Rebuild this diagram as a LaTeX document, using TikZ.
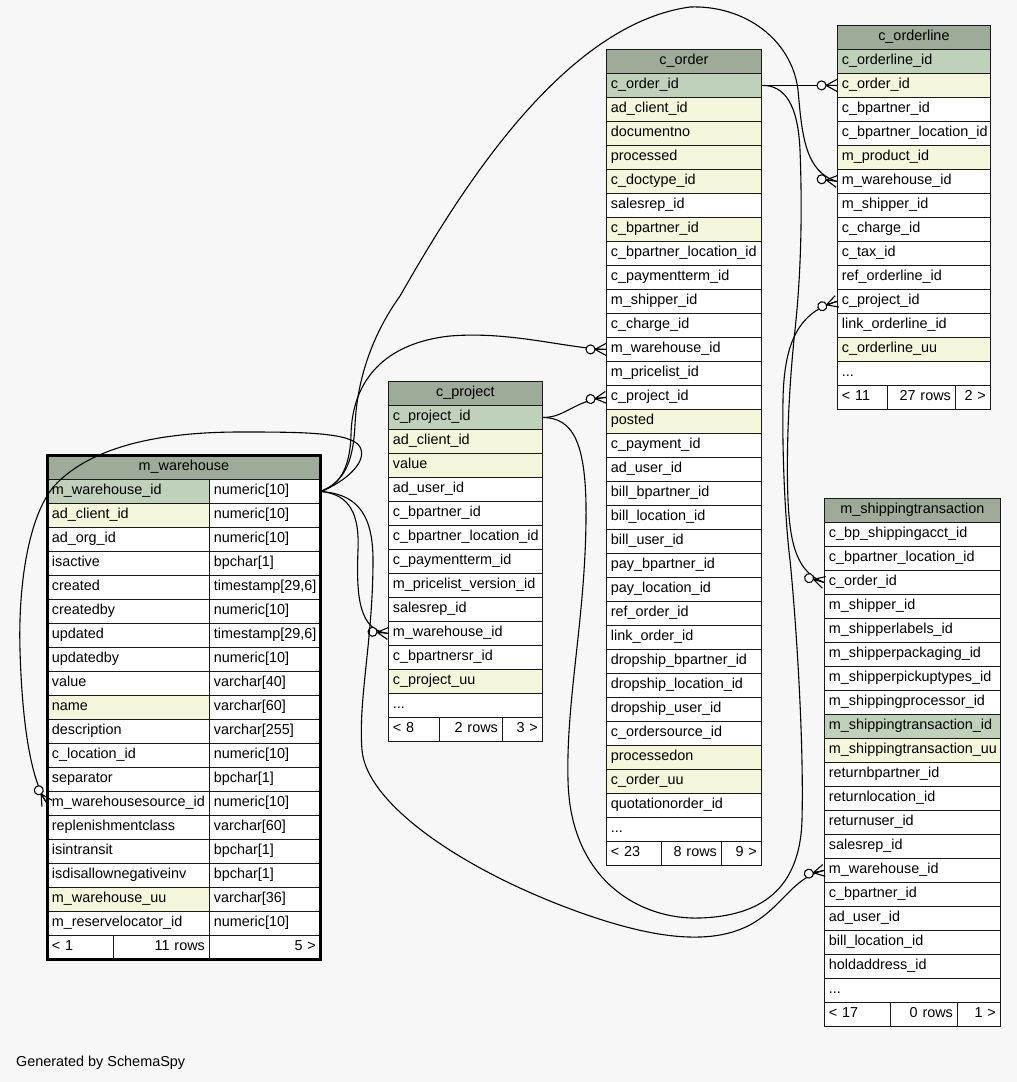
\documentclass[tikz,border=0pt]{standalone}
\usepackage{fontspec}
\setmainfont{Liberation Sans}
\definecolor{bgc}{HTML}{F7F7F7}
\definecolor{hdc}{HTML}{9DAB98}
\definecolor{pkc}{HTML}{BFD1BB}
\definecolor{fkc}{HTML}{F4F7DB}
\newcommand\tf{\fontsize{14.4}{17}\selectfont}
\newcommand\tdots{...}
\newcommand\crowend[2]{%
  \begin{scope}[shift={(#1)},rotate=#2]
    \draw[crowln] (-11,0) -- (0,-6) (-11,0) -- (0,0) (-11,0) -- (0,6);
    \draw[crowln,fill=white] (-15.5,0) circle[radius=4.5];
  \end{scope}}
\begin{document}
\begin{tikzpicture}[x=1pt,y=-1pt,
  cell/.style={draw=black!90, line width=0.8pt, fill=white, anchor=north west,
    inner xsep=4.5pt, inner ysep=0pt, minimum height=24pt, text height=10.5pt,
    text depth=3.5pt, align=left, font=\tf},
  wd/.code={\pgfmathsetlengthmacro\cw{#1-9}\tikzset{text width/.expanded={\cw}}},
  hdr/.style={fill=hdc, align=center},
  pk/.style={fill=pkc}, fk/.style={fill=fkc}, nn/.style={},
  rt/.style={align=right},
  edge/.style={draw=black, line width=1.1pt},
  crowln/.style={draw=black, line width=1.1pt}]
\fill[bgc] (0,0) rectangle (1017,1082);
\useasboundingbox (0,0) rectangle (1017,1082);

% ---------- m_warehouse ----------
\node[cell,hdr,wd=273] (mwh) at (47,455) {m\_warehouse};
\foreach \nm/\ty/\st [count=\i] in {
  m\_warehouse\_id/numeric[10]/pk,
  ad\_client\_id/numeric[10]/fk,
  ad\_org\_id/numeric[10]/nn,
  isactive/bpchar[1]/nn,
  created/{timestamp[29,6]}/nn,
  createdby/numeric[10]/nn,
  updated/{timestamp[29,6]}/nn,
  updatedby/numeric[10]/nn,
  value/varchar[40]/nn,
  name/varchar[60]/fk,
  description/varchar[255]/nn,
  c\_location\_id/numeric[10]/nn,
  separator/bpchar[1]/nn,
  m\_warehousesource\_id/numeric[10]/nn,
  replenishmentclass/varchar[60]/nn,
  isintransit/bpchar[1]/nn,
  isdisallownegativeinv/bpchar[1]/nn,
  m\_warehouse\_uu/varchar[36]/fk,
  m\_reservelocator\_id/numeric[10]/nn}
{
  \node[cell,\st,wd=162] (mw\i) at (47,{455+24*\i}) {\nm};
  \node[cell,wd=111] (mwt\i) at (209,{455+24*\i}) {\ty};
}
\node[cell,wd=66] (mwf1) at (47,935) {< 1};
\node[cell,rt,wd=96] (mwf2) at (113,935) {11 rows};
\node[cell,rt,wd=111] (mwf3) at (209,935) {5 >};
\draw[line width=3pt] (47,455) rectangle (320,959);

% ---------- c_project ----------
\node[cell,hdr,wd=154] (cph) at (388,381) {c\_project};
\foreach \nm/\st [count=\i] in {
  c\_project\_id/pk, ad\_client\_id/fk, value/fk, ad\_user\_id/nn,
  c\_bpartner\_id/nn, c\_bpartner\_location\_id/nn, c\_paymentterm\_id/nn,
  m\_pricelist\_version\_id/nn, salesrep\_id/nn, m\_warehouse\_id/nn,
  c\_bpartnersr\_id/nn, c\_project\_uu/fk, \tdots/nn}
{
  \node[cell,\st,wd=154] (cp\i) at (388,{381+24*\i}) {\nm};
}
\node[cell,wd=51] (cpf1) at (388,717) {< 8};
\node[cell,rt,wd=63] (cpf2) at (439,717) {2 rows};
\node[cell,rt,wd=40] (cpf3) at (502,717) {3 >};

% ---------- c_order ----------
\node[cell,hdr,wd=155] (coh) at (606,49) {c\_order};
\foreach \nm/\st [count=\i] in {
  c\_order\_id/pk, ad\_client\_id/fk, documentno/fk, processed/fk,
  c\_doctype\_id/fk, salesrep\_id/nn, c\_bpartner\_id/fk,
  c\_bpartner\_location\_id/nn, c\_paymentterm\_id/nn, m\_shipper\_id/nn,
  c\_charge\_id/nn, m\_warehouse\_id/nn, m\_pricelist\_id/nn,
  c\_project\_id/nn, posted/fk, c\_payment\_id/nn, ad\_user\_id/nn,
  bill\_bpartner\_id/nn, bill\_location\_id/nn, bill\_user\_id/nn,
  pay\_bpartner\_id/nn, pay\_location\_id/nn, ref\_order\_id/nn,
  link\_order\_id/nn, dropship\_bpartner\_id/nn, dropship\_location\_id/nn,
  dropship\_user\_id/nn, c\_ordersource\_id/nn, processedon/fk,
  c\_order\_uu/fk, quotationorder\_id/nn, \tdots/nn}
{
  \node[cell,\st,wd=155] (co\i) at (606,{49+24*\i}) {\nm};
}
\node[cell,wd=55] (cof1) at (606,841) {< 23};
\node[cell,rt,wd=60] (cof2) at (661,841) {8 rows};
\node[cell,rt,wd=40] (cof3) at (721,841) {9 >};

% ---------- c_orderline ----------
\node[cell,hdr,wd=153] (olh) at (837,25) {c\_orderline};
\foreach \nm/\st [count=\i] in {
  c\_orderline\_id/pk, c\_order\_id/fk, c\_bpartner\_id/nn,
  c\_bpartner\_location\_id/nn, m\_product\_id/fk, m\_warehouse\_id/nn,
  m\_shipper\_id/nn, c\_charge\_id/nn, c\_tax\_id/nn, ref\_orderline\_id/nn,
  c\_project\_id/nn, link\_orderline\_id/nn, c\_orderline\_uu/fk, \tdots/nn}
{
  \node[cell,\st,wd=153] (ol\i) at (837,{25+24*\i}) {\nm};
}
\node[cell,wd=50] (olf1) at (837,385) {< 11};
\node[cell,rt,wd=68] (olf2) at (887,385) {27 rows};
\node[cell,rt,wd=35] (olf3) at (955,385) {2 >};

% ---------- m_shippingtransaction ----------
\node[cell,hdr,wd=176] (sth) at (824,498) {m\_shippingtransaction};
\foreach \nm/\st [count=\i] in {
  c\_bp\_shippingacct\_id/nn, c\_bpartner\_location\_id/nn, c\_order\_id/nn,
  m\_shipper\_id/nn, m\_shipperlabels\_id/nn, m\_shipperpackaging\_id/nn,
  m\_shipperpickuptypes\_id/nn, m\_shippingprocessor\_id/nn,
  m\_shippingtransaction\_id/pk, m\_shippingtransaction\_uu/fk,
  returnbpartner\_id/nn, returnlocation\_id/nn, returnuser\_id/nn,
  salesrep\_id/nn, m\_warehouse\_id/nn, c\_bpartner\_id/nn, ad\_user\_id/nn,
  bill\_location\_id/nn, holdaddress\_id/nn, \tdots/nn}
{
  \node[cell,\st,wd=176] (st\i) at (824,{498+24*\i}) {\nm};
}
\node[cell,wd=66] (stf1) at (824,1002) {< 17};
\node[cell,rt,wd=67] (stf2) at (890,1002) {0 rows};
\node[cell,rt,wd=43] (stf3) at (957,1002) {1 >};

% ---------- connectors ----------
% c_order -> c_orderline.c_order_id
\draw[edge] (co1.east) -- (ol2.west);
\crowend{ol2.west}{0}
% c_order -> m_shippingtransaction.c_order_id
\draw[edge] (co1.east) .. controls (785,85) and (798,105) .. (800,150)
  .. controls (802,200) and (802,265) .. (795,330)
  .. controls (789,385) and (786,450) .. (788,500)
  .. controls (790,545) and (797,572) .. (st3.west);
\crowend{st3.west}{-16}
% m_warehouse -> c_orderline.m_warehouse_id
\draw[edge] (mwt1.east) .. controls (343,482) and (353,465) .. (355,425)
  .. controls (357,380) and (372,335) .. (400,296)
  .. controls (455,200) and (560,25) .. (690,7)
  .. controls (745,5) and (792,40) .. (798,90)
  .. controls (802,135) and (805,172) .. (ol6.west);
\crowend{ol6.west}{-8}
% m_warehouse -> c_order.m_warehouse_id
\draw[edge] (mwt1.east) .. controls (338,486) and (350,470) .. (351,435)
  .. controls (352,380) and (385,343) .. (450,336)
  .. controls (510,331) and (565,348) .. (co12.west);
\crowend{co12.west}{0}
% m_warehouse -> c_project.m_warehouse_id
\draw[edge] (mwt1.east) .. controls (343,494) and (360,505) .. (358,550)
  .. controls (356,600) and (360,630) .. (cp10.west);
\crowend{cp10.west}{-6}
% m_warehouse -> m_shippingtransaction.m_warehouse_id
\draw[edge] (mwt1.east) .. controls (352,494) and (373,508) .. (373,560)
  .. controls (373,640) and (358,700) .. (362,750)
  .. controls (366,800) and (450,862) .. (560,905)
  .. controls (640,936) and (710,950) .. (755,922)
  .. controls (785,903) and (793,878) .. (st15.west);
\crowend{st15.west}{12}
% m_warehouse -> m_warehouse.m_warehousesource_id
\draw[edge] (mwt1.east) .. controls (345,482) and (368,462) .. (360,447)
  .. controls (352,432) and (300,432) .. (240,432)
  .. controls (150,432) and (90,450) .. (57,483)
  .. controls (30,510) and (18,580) .. (20,650)
  .. controls (22,720) and (30,778) .. (mw14.west);
\crowend{mw14.west}{-58}
% c_project -> c_order.c_project_id
\draw[edge] (cp1.east) .. controls (565,418) and (575,400) .. (co14.west);
\crowend{co14.west}{6}
% c_project -> c_orderline.c_project_id
\draw[edge] (cp1.east) .. controls (572,418) and (587,440) .. (586,520)
  .. controls (585,620) and (566,700) .. (568,780)
  .. controls (570,880) and (640,920) .. (700,918)
  .. controls (760,916) and (800,890) .. (802,820)
  .. controls (804,740) and (796,620) .. (790,560)
  .. controls (785,520) and (782,450) .. (783,400)
  .. controls (784,340) and (800,312) .. (ol11.west);
\crowend{ol11.west}{18}

\node[anchor=base west, font=\tf, inner sep=0pt] (gen) at (16,1066) {Generated by SchemaSpy};
\end{tikzpicture}
\end{document}
